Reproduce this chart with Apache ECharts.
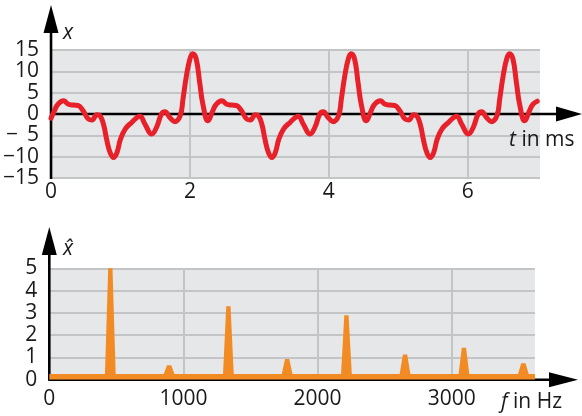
<!DOCTYPE html>
<html><head><meta charset="utf-8">
<script src="https://cdn.jsdelivr.net/npm/echarts@6/dist/echarts.min.js"></script>
<style>html,body{margin:0;padding:0;background:#fff}#c{width:582px;height:416px}</style>
</head><body><div id="c"></div>
<script>
// ---- data ----
const timeMs = [0.00,0.05,0.10,0.18,0.25,0.32,0.39,0.46,0.54,0.59,0.66,0.71,0.76,0.80,0.85,0.90,0.95,1.00,1.07,1.16,1.28,1.35,1.45,1.52,1.59,1.64,1.71,1.78,1.86,1.90,1.95,2.00,2.04,2.09,2.14,2.19,2.26,
2.33,2.38,2.46,2.53,2.60,2.67,2.74,2.82,2.87,2.94,2.99,3.04,3.08,3.13,3.18,3.23,3.28,3.35,3.44,3.56,3.63,3.73,3.80,3.87,3.92,3.99,4.06,4.14,4.18,4.23,4.28,4.32,4.37,4.42,4.47,4.54,
4.61,4.66,4.74,4.81,4.88,4.95,5.02,5.10,5.15,5.22,5.27,5.32,5.36,5.41,5.46,5.51,5.56,5.63,5.72,5.84,5.91,6.01,6.08,6.15,6.20,6.27,6.34,6.42,6.46,6.51,6.56,6.60,6.65,6.70,6.75,6.82,6.89,6.94,7.00];
const signalX = [-1.0,0.8,2.3,3.1,2.3,2.1,2.0,0.8,-1.2,-1.4,-0.2,-0.5,-2.7,-5.9,-9.0,-10.2,-9.0,-5.9,-3.5,-2.0,-0.5,-2.3,-4.7,-3.1,0.0,0.5,-0.8,-1.8,-0.4,3.5,9.0,12.9,14.1,12.9,7.4,2.0,-1.6,
0.8,2.3,3.1,2.3,2.1,2.0,0.8,-1.2,-1.4,-0.2,-0.5,-2.7,-5.9,-9.0,-10.2,-9.0,-5.9,-3.5,-2.0,-0.5,-2.3,-4.7,-3.1,0.0,0.5,-0.8,-1.8,-0.4,3.5,9.0,12.9,14.1,12.9,7.4,2.0,-1.6,
0.8,2.3,3.1,2.3,2.1,2.0,0.8,-1.2,-1.4,-0.2,-0.5,-2.7,-5.9,-9.0,-10.2,-9.0,-5.9,-3.5,-2.0,-0.5,-2.3,-4.7,-3.1,0.0,0.5,-0.8,-1.8,-0.4,3.5,9.0,12.9,14.1,12.9,7.4,2.0,-1.6,0.8,2.3,3.0];
const peakFreqHz = [455, 893, 1335, 1773, 2215, 2652, 3091, 3534];
const peakAmp = [5.05, 0.65, 3.3, 0.93, 2.9, 1.14, 1.44, 0.74];
const spectrumFloor = 0.26;
const timeAxis = {min: 0, max: 7.04, interval: 2};
const xAxisTop = {min: -15, max: 15, interval: 5};
const freqAxis = {min: 0, max: 3620, interval: 1000};
const ampAxis = {min: 0, max: 5, interval: 1};

// ---- styling ----
const FONT = '"Open Sans", "Noto Sans", sans-serif';
const TXT = '#1a1a1a';
const GRIDC = '#c3c4c5';
const BG = '#e6e7e8';
const RED = '#e8202a';
const ORANGE = '#f28b24';
const peakHalfBase = 40, peakHalfTop = 16;

const chart = echarts.init(document.getElementById('c'), null, {renderer: 'canvas'});

const sigData = timeMs.map((t, i) => [t, signalX[i]]);
const specData = [[freqAxis.min, spectrumFloor]];
peakFreqHz.forEach((f, i) => {
  specData.push([f - peakHalfBase, spectrumFloor], [f - peakHalfTop, peakAmp[i]], [f + peakHalfTop, peakAmp[i]], [f + peakHalfBase, spectrumFloor]);
});
specData.push([freqAxis.max, spectrumFloor]);

const minus = '\u2212';
function fmtY(v) {
  if (v < 0) {
    const a = Math.abs(v);
    return (a < 10 ? '{m|' + minus + '}' : minus) + a;
  }
  return String(v);
}
const plain = v => String(v);
const lbl = {color: TXT, fontSize: 21, fontFamily: FONT};

chart.setOption({
  animation: false,
  grid: [
    {left: 51, top: 50, width: 489, height: 128, show: true, backgroundColor: BG, borderWidth: 0},
    {left: 49.3, top: 268.3, width: 485.6, height: 111.5, show: true, backgroundColor: BG, borderWidth: 0}
  ],
  xAxis: [
    {gridIndex: 0, type: 'value', min: timeAxis.min, max: timeAxis.max, interval: timeAxis.interval,
     axisLine: {show: false}, axisTick: {show: false},
     axisLabel: Object.assign({margin: 4, showMaxLabel: false, formatter: plain}, lbl),
     splitLine: {show: true, showMinLine: false, showMaxLine: false, lineStyle: {color: GRIDC, width: 2}}},
    {gridIndex: 1, type: 'value', min: freqAxis.min, max: freqAxis.max, interval: freqAxis.interval,
     axisLine: {show: false}, axisTick: {show: false},
     axisLabel: Object.assign({margin: 9, showMaxLabel: false, formatter: plain}, lbl),
     splitLine: {show: true, showMinLine: false, showMaxLine: false, lineStyle: {color: GRIDC, width: 2}}}
  ],
  yAxis: [
    {gridIndex: 0, type: 'value', min: xAxisTop.min, max: xAxisTop.max, interval: xAxisTop.interval,
     axisLine: {show: false}, axisTick: {show: false},
     axisLabel: Object.assign({margin: 12, formatter: fmtY,
       rich: {m: {width: 21, align: 'left', color: TXT, fontSize: 21, fontFamily: FONT}}}, lbl),
     splitLine: {show: true, lineStyle: {color: GRIDC, width: 2}}},
    {gridIndex: 1, type: 'value', min: ampAxis.min, max: ampAxis.max, interval: ampAxis.interval,
     axisLine: {show: false}, axisTick: {show: false},
     axisLabel: Object.assign({margin: 12, formatter: plain}, lbl),
     splitLine: {show: true, lineStyle: {color: GRIDC, width: 2}}}
  ],
  series: [
    {type: 'line', xAxisIndex: 0, yAxisIndex: 0, data: sigData, smooth: 0.45, symbol: 'none',
     lineStyle: {color: RED, width: 5, cap: 'round', join: 'round'}, z: 5},
    {type: 'line', xAxisIndex: 1, yAxisIndex: 1, data: specData, smooth: false, symbol: 'none',
     lineStyle: {width: 0, color: ORANGE}, areaStyle: {color: ORANGE, opacity: 1}, z: 5}
  ]
});

function drawOverlay() {
  const px = (g, v) => chart.convertToPixel({gridIndex: g}, v);
  const t0 = px(0, [timeAxis.min, 0]);
  const tb = px(0, [timeAxis.min, xAxisTop.min]);
  const f0 = px(1, [freqAxis.min, ampAxis.min]);
  const black = {stroke: '#000', lineWidth: 2.6};
  const els = [];
  // top y axis
  els.push({type: 'line', z: 3, shape: {x1: t0[0], y1: tb[1] + 1, x2: t0[0], y2: 28}, style: black});
  els.push({type: 'polygon', z: 3, shape: {points: [[t0[0], 5], [t0[0] - 7.5, 33], [t0[0] + 7.5, 33]]}, style: {fill: '#000'}});
  // top x axis (zero line)
  els.push({type: 'line', z: 3, shape: {x1: t0[0], y1: t0[1], x2: 560, y2: t0[1]}, style: black});
  els.push({type: 'polygon', z: 3, shape: {points: [[582, t0[1]], [556, t0[1] - 7.5], [556, t0[1] + 7.5]]}, style: {fill: '#000'}});
  // bottom y axis
  els.push({type: 'line', z: 3, shape: {x1: f0[0], y1: f0[1] + 1, x2: f0[0], y2: 250}, style: black});
  els.push({type: 'polygon', z: 3, shape: {points: [[f0[0], 227], [f0[0] - 7.5, 255], [f0[0] + 7.5, 255]]}, style: {fill: '#000'}});
  // bottom x axis
  els.push({type: 'line', z: 3, shape: {x1: f0[0], y1: f0[1], x2: 553, y2: f0[1]}, style: black});
  els.push({type: 'polygon', z: 3, shape: {points: [[578, f0[1]], [549, f0[1] - 7.5], [549, f0[1] + 7.5]]}, style: {fill: '#000'}});
  // axis titles
  els.push({type: 'text', z: 10, x: 63, y: 33, style: {text: 'x', fontSize: 21, fontStyle: 'italic', fontFamily: FONT, fill: TXT, verticalAlign: 'middle'}});
  els.push({type: 'text', z: 10, x: 509, y: 140, style: {text: '{i|t} in ms', fontSize: 21, fontFamily: FONT, fill: TXT, verticalAlign: 'middle',
    rich: {i: {fontStyle: 'italic', fontSize: 21, fontFamily: FONT, fill: TXT}}}});
  els.push({type: 'text', z: 10, x: 63, y: 249, style: {text: 'x\u0302', fontSize: 21, fontStyle: 'italic', fontFamily: FONT, fill: TXT, verticalAlign: 'middle'}});
  els.push({type: 'text', z: 10, x: 501, y: 402, style: {text: '{i|f} in Hz', fontSize: 21, fontFamily: FONT, fill: TXT, verticalAlign: 'middle',
    rich: {i: {fontStyle: 'italic', fontSize: 21, fontFamily: FONT, fill: TXT}}}});
  chart.setOption({graphic: {elements: els}});
}
drawOverlay();
</script>
</body></html>
